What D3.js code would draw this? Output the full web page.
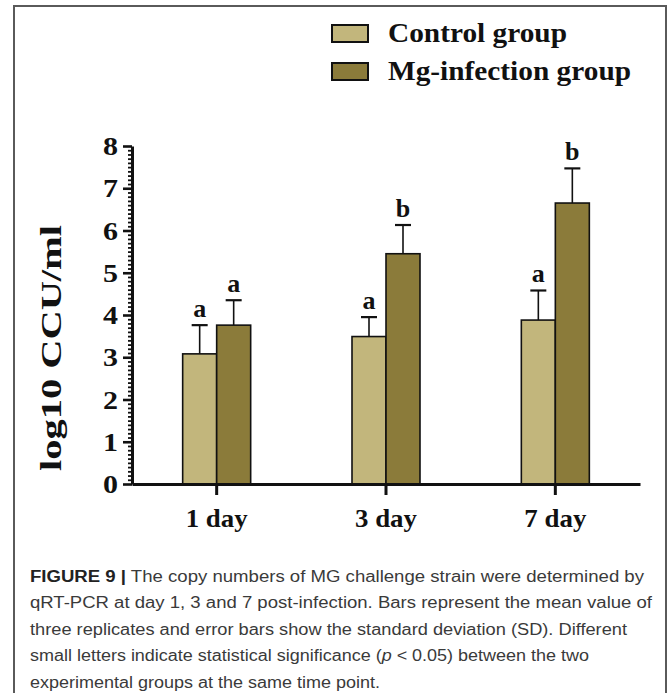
<!DOCTYPE html>
<html>
<head>
<meta charset="utf-8">
<script src="https://cdn.jsdelivr.net/npm/d3@7"></script>
<style>
  html, body { margin: 0; padding: 0; background: #fff; }
  svg { display: block; }
</style>
</head>
<body>
<svg id="fig" width="669" height="693"></svg>
<script>
// Time points and groups
const days = ["1 day", "3 day", "7 day"];
const groups = ["Control group", "Mg-infection group"];

// Mean log10 CCU/ml and standard deviation per time point
const controlMean = [3.08, 3.49, 3.88];
const controlSD   = [0.68, 0.46, 0.70];
const mgMean      = [3.76, 5.45, 6.65];
const mgSD        = [0.59, 0.68, 0.82];

// Significance letters
const controlLetters = ["a", "a", "a"];
const mgLetters      = ["a", "b", "b"];

// Axis ticks
const yTicks = [0, 1, 2, 3, 4, 5, 6, 7, 8];
const yMinorTicks = d3.range(0, 80).map(i => i / 10).filter(v => !Number.isInteger(v));

// Caption lines
const captionLines = [
  ["FIGURE 9 |", " The copy numbers of MG challenge strain were determined by"],
  ["", "qRT-PCR at day 1, 3 and 7 post-infection. Bars represent the mean value of"],
  ["", "three replicates and error bars show the standard deviation (SD). Different"],
  ["", "small letters indicate statistical significance (", "p", " < 0.05) between the two"],
  ["", "experimental groups at the same time point."]
];
const captionWidths = [614, 622, 597, 559, 350];

const colors = { "Control group": "#c2b67c", "Mg-infection group": "#8b7b3a" };
const serif = "'Liberation Serif', 'Times New Roman', serif";

const svg = d3.select("#fig");

// Outer frame
svg.append("rect")
  .attr("x", 14).attr("y", 6)
  .attr("width", 652).attr("height", 700)
  .attr("fill", "none").attr("stroke", "#5a5a5a").attr("stroke-width", 2);

// Rows of data for the bars
const rows = days.map((d, i) => ({
  day: d,
  bars: [
    { group: groups[0], mean: controlMean[i], sd: controlSD[i], letter: controlLetters[i] },
    { group: groups[1], mean: mgMean[i], sd: mgSD[i], letter: mgLetters[i] }
  ]
}));

const y = d3.scaleLinear().domain([0, 8]).range([484, 146]);
const x = d3.scaleBand().domain(days).range([132, 640]);
const x1 = d3.scaleBand().domain(groups).range([-34, 34]);

// Bars, error bars and letters
const g = svg.append("g");
const grp = g.selectAll("g.day").data(rows).join("g")
  .attr("class", "day")
  .attr("transform", d => `translate(${x(d.day) + x.bandwidth() / 2},0)`);

const bar = grp.selectAll("g.bar").data(d => d.bars).join("g").attr("class", "bar");

// error bar stems (drawn under bars)
bar.append("line")
  .attr("x1", d => x1(d.group) + x1.bandwidth() / 2)
  .attr("x2", d => x1(d.group) + x1.bandwidth() / 2)
  .attr("y1", d => y(d.mean))
  .attr("y2", d => y(d.mean + d.sd))
  .attr("stroke", "#111").attr("stroke-width", 1.6);
bar.append("line")
  .attr("x1", d => x1(d.group) + x1.bandwidth() / 2 - 8)
  .attr("x2", d => x1(d.group) + x1.bandwidth() / 2 + 8)
  .attr("y1", d => y(d.mean + d.sd))
  .attr("y2", d => y(d.mean + d.sd))
  .attr("stroke", "#111").attr("stroke-width", 2.2);

bar.append("rect")
  .attr("x", d => x1(d.group))
  .attr("width", x1.bandwidth())
  .attr("y", d => y(d.mean))
  .attr("height", d => y(0) - y(d.mean))
  .attr("fill", d => colors[d.group])
  .attr("stroke", "#111").attr("stroke-width", 1.6);

bar.append("text")
  .attr("x", d => x1(d.group) + x1.bandwidth() / 2)
  .attr("y", d => y(d.mean + d.sd) - 8)
  .attr("text-anchor", "middle")
  .attr("font-family", serif).attr("font-weight", "bold").attr("font-size", 26)
  .attr("fill", "#111")
  .text(d => d.letter);

// Y axis: minor ticks
svg.append("g")
  .attr("transform", "translate(132,0)")
  .call(d3.axisLeft(y).tickValues(yMinorTicks).tickSize(4).tickFormat(""))
  .call(a => a.select(".domain").remove())
  .call(a => a.selectAll("line").attr("stroke", "#111").attr("stroke-width", 1.8));

// Y axis: major ticks and labels
svg.append("g")
  .attr("transform", "translate(132,0)")
  .call(d3.axisLeft(y).tickValues(yTicks).tickSize(9).tickSizeOuter(0).tickPadding(5))
  .call(a => a.select(".domain").attr("stroke", "#111").attr("stroke-width", 3))
  .call(a => a.selectAll("line").attr("stroke", "#111").attr("stroke-width", 2.6))
  .call(a => a.selectAll("text")
    .attr("font-family", serif).attr("font-weight", "bold").attr("font-size", 25)
    .attr("fill", "#111").attr("dy", "0.34em")
    .attr("textLength", 15).attr("lengthAdjust", "spacingAndGlyphs"));

// X axis
svg.append("g")
  .attr("transform", "translate(0,484)")
  .call(d3.axisBottom(x).tickSize(11).tickSizeOuter(0))
  .call(a => a.select(".domain").attr("stroke", "#111").attr("stroke-width", 3.2))
  .call(a => a.selectAll("line").attr("stroke", "#111").attr("stroke-width", 3))
  .call(a => a.selectAll("text")
    .attr("font-family", serif).attr("font-weight", "bold").attr("font-size", 25)
    .attr("fill", "#111").attr("dy", null).attr("y", 43)
    .attr("textLength", 62).attr("lengthAdjust", "spacingAndGlyphs"));

// Y axis title
svg.append("text")
  .attr("transform", "translate(61,348) rotate(-90)")
  .attr("text-anchor", "middle")
  .attr("font-family", serif).attr("font-weight", "bold").attr("font-size", 29)
  .attr("fill", "#111")
  .attr("textLength", 246).attr("lengthAdjust", "spacingAndGlyphs")
  .text("log10 CCU/ml");

// Legend
const legend = svg.append("g").selectAll("g").data(groups).join("g")
  .attr("transform", (d, i) => `translate(332,${25 + i * 38})`);
legend.append("rect")
  .attr("width", 36).attr("height", 17)
  .attr("fill", d => colors[d])
  .attr("stroke", "#111").attr("stroke-width", 2);
legend.append("text")
  .attr("x", 56).attr("y", 17)
  .attr("font-family", serif).attr("font-weight", "bold").attr("font-size", 28)
  .attr("fill", "#111")
  .attr("textLength", (d, i) => i === 0 ? 179 : 243)
  .attr("lengthAdjust", "spacingAndGlyphs")
  .text(d => d);

// Caption
const cap = svg.append("g");
captionLines.forEach((parts, i) => {
  const t = cap.append("text")
    .attr("x", 30).attr("y", 582 + i * 26.4)
    .attr("font-family", "'Liberation Sans', Arial, sans-serif")
    .attr("font-size", 16).attr("fill", "#3a3a3a")
    .attr("textLength", captionWidths[i]).attr("lengthAdjust", "spacingAndGlyphs");
  parts.forEach((p, j) => {
    if (!p) return;
    const s = t.append("tspan").text(p);
    if (i === 0 && j === 0) s.attr("font-weight", "bold").attr("fill", "#222");
    if (i === 3 && j === 2) s.attr("font-style", "italic");
  });
});
</script>
</body>
</html>
